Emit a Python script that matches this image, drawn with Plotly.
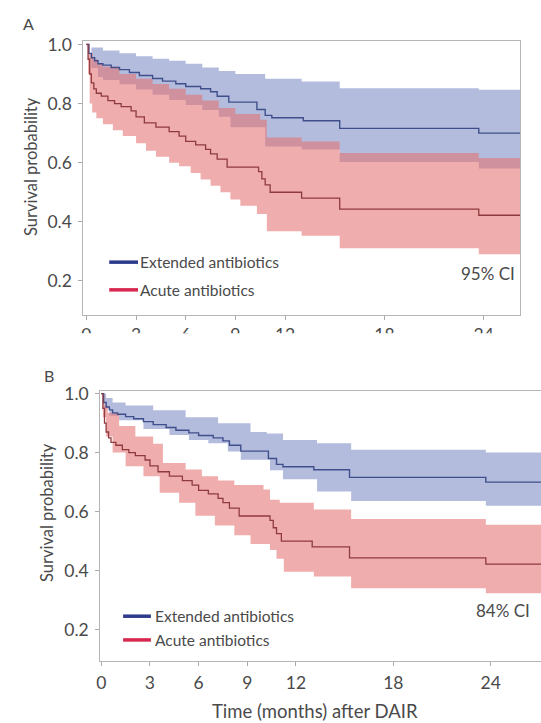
import plotly.graph_objects as go

# ---------------- data ----------------
ext_t = [0, 0.15, 0.3, 0.5, 0.7, 1.0, 1.5, 2.0, 2.6, 3.2, 4.0, 4.6, 5.4, 6.0, 6.9, 7.5, 7.9, 8.6, 10.3, 10.8, 11.2, 13.1, 15.3, 23.7, 27.5]
ext_s = [1.0, 0.97, 0.955, 0.945, 0.935, 0.93, 0.922, 0.915, 0.905, 0.895, 0.885, 0.876, 0.867, 0.858, 0.85, 0.84, 0.825, 0.805, 0.78, 0.76, 0.752, 0.742, 0.716, 0.70, 0.70]

acu_t = [0, 0.1, 0.2, 0.3, 0.45, 0.6, 0.9, 1.3, 1.7, 2.1, 2.7, 3.0, 3.5, 4.2, 5.0, 5.6, 6.0, 6.6, 7.2, 7.5, 7.9, 8.5, 10.4, 10.6, 10.8, 11.1, 13.0, 15.3, 23.7, 27.5]
acu_s = [1.0, 0.95, 0.9, 0.87, 0.85, 0.835, 0.825, 0.81, 0.8, 0.79, 0.775, 0.755, 0.735, 0.72, 0.705, 0.69, 0.672, 0.66, 0.645, 0.63, 0.612, 0.585, 0.57, 0.545, 0.525, 0.5, 0.48, 0.443, 0.422, 0.422]

# Panel A: 95% CI
a_ext_up_t = [0, 0.3, 1.0, 2.0, 3.0, 4.0, 5.0, 6.0, 7.0, 8.0, 9.0, 10.8, 13.0, 15.3, 23.7, 27.5]
a_ext_up_s = [1.0, 0.99, 0.98, 0.97, 0.96, 0.952, 0.945, 0.935, 0.922, 0.91, 0.90, 0.884, 0.875, 0.852, 0.847, 0.847]
a_ext_lo_t = [0, 0.3, 0.7, 1.0, 2.0, 3.0, 4.0, 5.0, 6.0, 7.0, 8.0, 8.7, 10.8, 13.0, 15.3, 23.7, 27.5]
a_ext_lo_s = [1.0, 0.92, 0.89, 0.88, 0.865, 0.848, 0.83, 0.812, 0.795, 0.778, 0.755, 0.72, 0.655, 0.645, 0.602, 0.58, 0.58]
a_acu_up_t = [0, 0.2, 0.4, 0.7, 1.0, 2.0, 3.0, 4.0, 5.0, 6.0, 7.0, 8.0, 9.0, 10.5, 10.9, 13.0, 15.3, 23.7, 27.5]
a_acu_up_s = [1.0, 0.97, 0.95, 0.935, 0.925, 0.9, 0.884, 0.866, 0.85, 0.83, 0.81, 0.785, 0.765, 0.745, 0.685, 0.672, 0.633, 0.616, 0.616]
a_acu_lo_t = [0, 0.1, 0.2, 0.35, 0.6, 1.0, 1.6, 2.2, 3.0, 3.6, 4.2, 5.0, 5.6, 6.3, 6.9, 7.5, 8.1, 8.7, 9.3, 10.3, 10.9, 13.0, 15.3, 23.7, 27.5]
a_acu_lo_s = [1.0, 0.9, 0.8, 0.77, 0.75, 0.73, 0.71, 0.69, 0.666, 0.64, 0.62, 0.6, 0.588, 0.565, 0.543, 0.522, 0.5, 0.475, 0.454, 0.426, 0.368, 0.353, 0.31, 0.29, 0.29]

# Panel B: 84% CI
b_ext_up_t = [0, 0.3, 0.7, 1.5, 3.2, 5.2, 7.2, 9.2, 10.2, 11.2, 13.3, 15.4, 23.7, 27.5]
b_ext_up_s = [1.0, 0.985, 0.97, 0.96, 0.944, 0.92, 0.90, 0.87, 0.865, 0.843, 0.832, 0.81, 0.80, 0.80]
b_ext_lo_t = [0, 0.2, 0.5, 1.1, 2.6, 4.2, 5.4, 6.6, 7.8, 8.6, 10.4, 11.2, 13.3, 15.4, 23.7, 27.5]
b_ext_lo_s = [1.0, 0.95, 0.925, 0.91, 0.88, 0.86, 0.843, 0.832, 0.804, 0.776, 0.74, 0.71, 0.668, 0.636, 0.62, 0.62]
b_acu_up_t = [0, 0.2, 0.4, 1.1, 2.1, 3.2, 3.8, 5.2, 6.2, 7.2, 8.2, 10.0, 10.4, 11.0, 13.1, 15.4, 23.7, 27.5]
b_acu_up_s = [1.0, 0.96, 0.935, 0.89, 0.855, 0.83, 0.765, 0.743, 0.72, 0.705, 0.69, 0.675, 0.64, 0.63, 0.607, 0.575, 0.555, 0.555]
b_acu_lo_t = [0, 0.1, 0.3, 0.7, 1.5, 2.6, 3.6, 4.8, 5.8, 7.0, 8.2, 9.2, 10.4, 10.8, 11.25, 13.1, 15.4, 23.7, 27.5]
b_acu_lo_s = [1.0, 0.92, 0.855, 0.8, 0.754, 0.72, 0.664, 0.63, 0.586, 0.553, 0.52, 0.49, 0.47, 0.44, 0.396, 0.38, 0.34, 0.323, 0.323]

x_ticks = [0, 3, 6, 9, 12, 18, 24]
y_ticks = [0.2, 0.4, 0.6, 0.8, 1.0]
y_tick_labels = ["0.2", "0.4", "0.6", "0.8", "1.0"]

# ---------------- styling ----------------
W, H = 541, 723
FONT = "Lato"
TXT = "#4a4a4a"
BLUE_BAND = "rgb(180,188,222)"
RED_BAND = "rgba(230,113,113,0.58)"
BLUE_LINE = "#3f4f8c"
RED_LINE = "#8e3a3e"

def px(x):
    return x / W

def py(y):
    return 1 - y / H

fig = go.Figure()

def add_panel(xa, ya, eu, el, au, al):
    common = dict(xaxis=xa, yaxis=ya, mode="lines", line_shape="hv", hoverinfo="skip", showlegend=False)
    fig.add_trace(go.Scatter(x=el[0], y=el[1], line=dict(width=0, color=BLUE_BAND), **common))
    fig.add_trace(go.Scatter(x=eu[0], y=eu[1], line=dict(width=0, color=BLUE_BAND), fill="tonexty", fillcolor=BLUE_BAND, **common))
    fig.add_trace(go.Scatter(x=al[0], y=al[1], line=dict(width=0, color=RED_BAND), **common))
    fig.add_trace(go.Scatter(x=au[0], y=au[1], line=dict(width=0, color=RED_BAND), fill="tonexty", fillcolor=RED_BAND, **common))
    fig.add_trace(go.Scatter(x=ext_t, y=ext_s, line=dict(width=1.4, color=BLUE_LINE), **common))
    fig.add_trace(go.Scatter(x=acu_t, y=acu_s, line=dict(width=1.3, color=RED_LINE), **common))

add_panel("x", "y", (a_ext_up_t, a_ext_up_s), (a_ext_lo_t, a_ext_lo_s), (a_acu_up_t, a_acu_up_s), (a_acu_lo_t, a_acu_lo_s))
add_panel("x2", "y2", (b_ext_up_t, b_ext_up_s), (b_ext_lo_t, b_ext_lo_s), (b_acu_up_t, b_acu_up_s), (b_acu_lo_t, b_acu_lo_s))

axis_common = dict(showline=True, linecolor="#b5b5b5", linewidth=1,
                   ticks="outside", ticklen=4, tickcolor="#aaaaaa", showgrid=False, zeroline=False,
                   tickfont=dict(family=FONT, size=17.5, color=TXT))

fig.update_layout(
    width=W, height=H, margin=dict(l=0, r=0, t=0, b=0),
    paper_bgcolor="white", plot_bgcolor="white",
    font=dict(family=FONT, color=TXT),
    xaxis=dict(domain=[px(80), px(520)], anchor="y", range=[-0.18, 26.2], mirror=True,
               tickvals=x_ticks, **axis_common),
    yaxis=dict(domain=[py(310), py(33)], anchor="x", range=[0.086, 1.013], mirror=True,
               tickvals=y_ticks, ticktext=y_tick_labels, ticklabelstandoff=3, **axis_common),
    xaxis2=dict(domain=[px(97), 1.0], anchor="y2", range=[-0.06, 27.1], mirror=True,
                tickvals=x_ticks, ticklabelstandoff=2, **axis_common),
    yaxis2=dict(domain=[py(660), py(387)], anchor="x2", range=[0.094, 1.01], mirror=False,
                tickvals=y_ticks, ticktext=y_tick_labels, ticklabelstandoff=3, **axis_common),
)

shapes = [
    # crop of panel A tick labels (image edge)
    dict(type="rect", xref="paper", yref="paper", x0=0, x1=1, y0=py(345), y1=py(329),
         fillcolor="white", line=dict(width=0), layer="above"),
    # legend swatches
    dict(type="line", xref="paper", yref="paper", x0=px(106), x1=px(135), y0=py(257), y1=py(257),
         line=dict(color="#2e3a8c", width=3.5), layer="above"),
    dict(type="line", xref="paper", yref="paper", x0=px(106), x1=px(135), y0=py(285), y1=py(285),
         line=dict(color="#d8274e", width=3.5), layer="above"),
    dict(type="line", xref="paper", yref="paper", x0=px(120), x1=px(148), y0=py(615), y1=py(615),
         line=dict(color="#2e3a8c", width=3.5), layer="above"),
    dict(type="line", xref="paper", yref="paper", x0=px(120), x1=px(148), y0=py(639), y1=py(639),
         line=dict(color="#d8274e", width=3.5), layer="above"),
]
fig.update_layout(shapes=shapes)

def ann(text, x, y, size=14, xanchor="left", angle=0, color=TXT):
    fig.add_annotation(text=text, x=px(x), y=py(y), xref="paper", yref="paper",
                       showarrow=False, xanchor=xanchor, yanchor="middle", textangle=angle,
                       font=dict(family=FONT, size=size, color=color))

ann("A", 17, 16, size=16)
ann("B", 38, 372, size=16)
ann("Survival probability", 27, 160, size=16.5, xanchor="center", angle=-90)
ann("Survival probability", 44, 510, size=16.5, xanchor="center", angle=-90)
ann("Extended antibiotics", 135, 257, size=15.5)
ann("Acute antibiotics", 135, 285, size=15.5)
ann("Extended antibiotics", 150, 615, size=15.5)
ann("Acute antibiotics", 150, 639, size=15.5)
ann("95% CI", 517, 268, size=17, xanchor="right")
ann("84% CI", 474, 609, size=17)
ann("Time (months) after DAIR", 313, 711, size=18.5, xanchor="center")

fig.write_html("out.html", config={"displayModeBar": False},
               post_script="document.body.style.margin='0px';document.body.style.padding='0px';document.body.style.overflow='hidden';")
